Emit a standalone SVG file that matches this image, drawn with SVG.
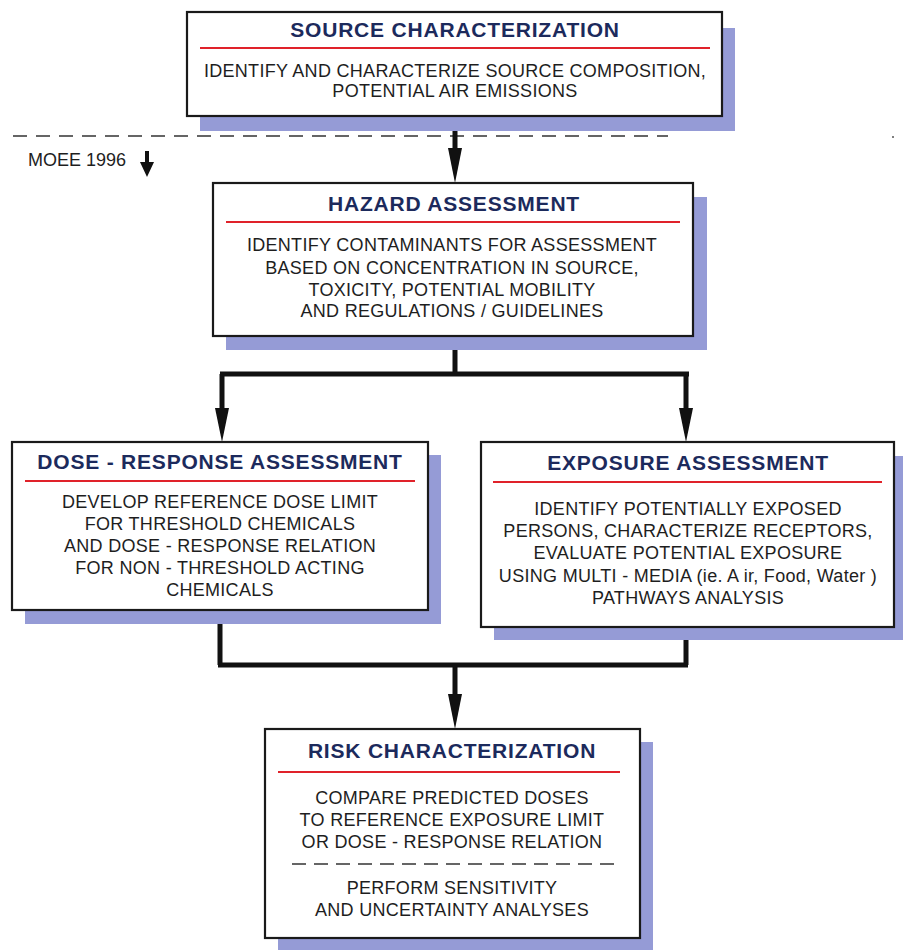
<svg xmlns="http://www.w3.org/2000/svg" width="903" height="950" viewBox="0 0 903 950">
<defs>
<style>
.shadow{fill:#959bd6}
.box{fill:#fff;stroke:#1a1a1a;stroke-width:2.2}
.title{font-family:"Liberation Sans",Arial,sans-serif;font-weight:bold;font-size:21px;letter-spacing:0.8px;fill:#1c2a5c;text-anchor:middle}
.body{font-family:"Liberation Sans",Arial,sans-serif;font-size:18px;letter-spacing:0.3px;fill:#1e1e1e;text-anchor:middle}
.red{stroke:#e0222a;stroke-width:2}
.conn{fill:none;stroke:#111;stroke-width:5}
.dash{stroke:#333;stroke-width:1.5;stroke-dasharray:14 9}
</style>
</defs>
<rect width="903" height="950" fill="#fff"/>

<g id="dashed-separator">
<line class="dash" x1="13" y1="136" x2="668" y2="136"/>
<circle cx="893" cy="137" r="1" fill="#555"/>
</g>

<g id="moee-label">
<text x="28" y="166" font-family="'Liberation Sans',Arial,sans-serif" font-size="18" fill="#1e1e1e">MOEE 1996</text>
<line x1="147" y1="151" x2="147" y2="165" stroke="#111" stroke-width="4"/>
<path d="M140,162 L154,162 L147,177 z" fill="#111"/>
</g>

<g id="connectors">
<line class="conn" x1="455" y1="116" x2="455" y2="150"/>
<path d="M448,148 L462,148 L455,183 z" fill="#111"/>
<path class="conn" d="M455,336 L455,374 M220,374 L689,374 M222,374 L222,410 M686,374 L686,410"/>
<path d="M215,408 L229,408 L222,442 z" fill="#111"/>
<path d="M679,408 L693,408 L686,442 z" fill="#111"/>
<path class="conn" d="M220,610 L220,665 M686,627 L686,665 M218,665 L688,665 M455,665 L455,695"/>
<path d="M448,694 L462,694 L455,729 z" fill="#111"/>
</g>

<g id="source-characterization">
<rect class="shadow" x="200" y="28" width="535" height="103"/>
<rect class="box" x="187" y="12" width="535" height="104"/>
<text class="title" x="455" y="37">SOURCE CHARACTERIZATION</text>
<line class="red" x1="200" y1="48" x2="710" y2="48"/>
<text class="body" x="455" y="77">IDENTIFY AND CHARACTERIZE SOURCE COMPOSITION,</text>
<text class="body" x="455" y="97">POTENTIAL AIR EMISSIONS</text>
</g>

<g id="hazard-assessment">
<rect class="shadow" x="226" y="197" width="481" height="153"/>
<rect class="box" x="213" y="183" width="480" height="153"/>
<text class="title" x="454" y="211">HAZARD ASSESSMENT</text>
<line class="red" x1="226" y1="222" x2="680" y2="222"/>
<text class="body" x="452" y="251">IDENTIFY  CONTAMINANTS FOR ASSESSMENT</text>
<text class="body" x="452" y="274">BASED ON CONCENTRATION IN SOURCE,</text>
<text class="body" x="452" y="296">TOXICITY, POTENTIAL MOBILITY</text>
<text class="body" x="452" y="317">AND REGULATIONS / GUIDELINES</text>
</g>

<g id="dose-response-assessment">
<rect class="shadow" x="25" y="455" width="416" height="169"/>
<rect class="box" x="12" y="442" width="416" height="168"/>
<text class="title" x="220" y="469">DOSE - RESPONSE ASSESSMENT</text>
<line class="red" x1="25" y1="481" x2="415" y2="481"/>
<text class="body" x="220" y="508">DEVELOP REFERENCE DOSE LIMIT</text>
<text class="body" x="220" y="530">FOR THRESHOLD CHEMICALS</text>
<text class="body" x="220" y="552">AND DOSE - RESPONSE RELATION</text>
<text class="body" x="220" y="574">FOR NON - THRESHOLD ACTING</text>
<text class="body" x="220" y="596">CHEMICALS</text>
</g>

<g id="exposure-assessment">
<rect class="shadow" x="494" y="456" width="409" height="184"/>
<rect class="box" x="481" y="442" width="413" height="185"/>
<text class="title" x="688" y="470">EXPOSURE ASSESSMENT</text>
<line class="red" x1="493" y1="482" x2="882" y2="482"/>
<text class="body" x="688" y="515">IDENTIFY POTENTIALLY EXPOSED</text>
<text class="body" x="688" y="537">PERSONS, CHARACTERIZE RECEPTORS,</text>
<text class="body" x="688" y="559">EVALUATE POTENTIAL EXPOSURE</text>
<text class="body" x="688" y="582">USING MULTI - MEDIA (ie. A ir, Food, Water )</text>
<text class="body" x="688" y="604">PATHWAYS ANALYSIS</text>
</g>

<g id="risk-characterization">
<rect class="shadow" x="278" y="742" width="375" height="208"/>
<rect class="box" x="265" y="729" width="375" height="209"/>
<text class="title" x="452" y="758">RISK CHARACTERIZATION</text>
<line class="red" x1="278" y1="772" x2="620" y2="772"/>
<text class="body" x="452" y="804">COMPARE PREDICTED DOSES</text>
<text class="body" x="452" y="826">TO REFERENCE EXPOSURE LIMIT</text>
<text class="body" x="452" y="848">OR DOSE - RESPONSE RELATION</text>
<line x1="292" y1="864" x2="614" y2="864" stroke="#333" stroke-width="1.5" stroke-dasharray="14 8"/>
<text class="body" x="452" y="894">PERFORM SENSITIVITY</text>
<text class="body" x="452" y="916">AND UNCERTAINTY ANALYSES</text>
</g>
</svg>
